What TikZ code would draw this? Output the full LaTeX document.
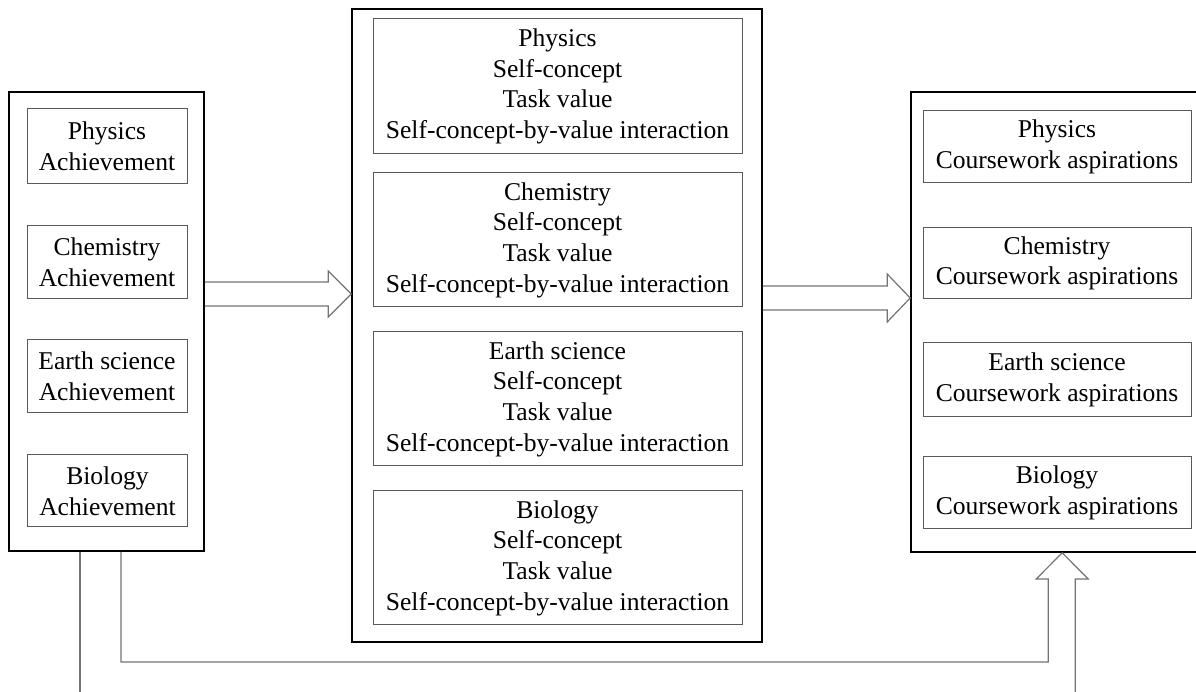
\documentclass[tikz,border=0pt]{standalone}
\usepackage{fontspec}
\setmainfont{Liberation Serif}
\usetikzlibrary{calc}
\begin{document}
\begin{tikzpicture}[x=1pt,y=1pt,
  txt/.style={font=\fontsize{25.6pt}{30.7pt}\selectfont,align=center,inner sep=0pt},
  outerbox/.style={draw=black,line width=1.6pt,inner sep=0pt},
  innerbox/.style={txt,draw=black!65,line width=1pt},
  hollow/.style={draw=black!55,line width=1.2pt,line join=miter}]
\useasboundingbox (0,0) rectangle (1196,692);
\clip (0,0) rectangle (1196,692);
% outer boxes
\node[outerbox,minimum width=195pt,minimum height=459pt] (L) at (106.5,370.5) {};
\node[outerbox,minimum width=410pt,minimum height=633pt] (M) at (557,366.5) {};
\node[outerbox,minimum width=292pt,minimum height=460pt] (R) at (1057,370) {};
% left inner
\node[innerbox,minimum width=160pt,minimum height=75pt] (L1) at (107,545.5) {Physics\\Achievement};
\node[innerbox,minimum width=160pt,minimum height=73pt] (L2) at (107,429.5) {Chemistry\\Achievement};
\node[innerbox,minimum width=160pt,minimum height=73pt] (L3) at (107,315.5) {Earth science\\Achievement};
\node[innerbox,minimum width=160pt,minimum height=72pt] (L4) at (107.5,201) {Biology\\Achievement};
% middle inner
\node[innerbox,minimum width=369pt,minimum height=135pt] (M1) at (557.5,605.5) {Physics\\Self-concept\\Task value\\Self-concept-by-value interaction};
\node[innerbox,minimum width=369pt,minimum height=134pt] (M2) at (557.5,452) {Chemistry\\Self-concept\\Task value\\Self-concept-by-value interaction};
\node[innerbox,minimum width=369pt,minimum height=134pt] (M3) at (557.5,293) {Earth science\\Self-concept\\Task value\\Self-concept-by-value interaction};
\node[innerbox,minimum width=369pt,minimum height=134pt] (M4) at (557.5,134) {Biology\\Self-concept\\Task value\\Self-concept-by-value interaction};
% right inner
\node[innerbox,minimum width=268pt,minimum height=72pt] (R1) at (1057,545) {Physics\\Coursework aspirations};
\node[innerbox,minimum width=268pt,minimum height=71pt] (R2) at (1057,428.5) {Chemistry\\Coursework aspirations};
\node[innerbox,minimum width=268pt,minimum height=74pt] (R3) at (1057,312) {Earth science\\Coursework aspirations};
\node[innerbox,minimum width=268pt,minimum height=72pt] (R4) at (1057,199) {Biology\\Coursework aspirations};
% arrow L -> M
\coordinate (c1) at (0,398);
\draw[hollow] ($(L.east|-c1)+(0,12)$) -- ($(M.west|-c1)+(-23,12)$) -- ($(M.west|-c1)+(-23,23)$)
  -- (M.west|-c1) -- ($(M.west|-c1)+(-23,-23)$) -- ($(M.west|-c1)+(-23,-12)$) -- ($(L.east|-c1)+(0,-12)$);
% arrow M -> R
\coordinate (c2) at (0,394);
\draw[hollow] ($(M.east|-c2)+(0,12)$) -- ($(R.west|-c2)+(-23,12)$) -- ($(R.west|-c2)+(-23,24)$)
  -- (R.west|-c2) -- ($(R.west|-c2)+(-23,-24)$) -- ($(R.west|-c2)+(-23,-12)$) -- ($(M.east|-c2)+(0,-12)$);
% bottom arrow L -> R
\coordinate (tip) at ($(R.south west)+(152,0)$);
\coordinate (low) at (0,-20);
\coordinate (mid) at (0,30);
\coordinate (hb) at (0,113);
\draw[hollow] ($(L.south)+(-26.5,0)$) -- ($(L.south|-low)+(-26.5,0)$);
\draw[hollow] ($(L.south)+(14.5,0)$) -- ($(L.south|-mid)+(14.5,0)$) -- ($(tip|-mid)+(-14,0)$)
  -- ($(tip|-hb)+(-14,0)$) -- ($(tip|-hb)+(-26,0)$) -- (tip) -- ($(tip|-hb)+(26,0)$)
  -- ($(tip|-hb)+(13,0)$) -- ($(tip|-low)+(13,0)$);
\end{tikzpicture}
\end{document}
